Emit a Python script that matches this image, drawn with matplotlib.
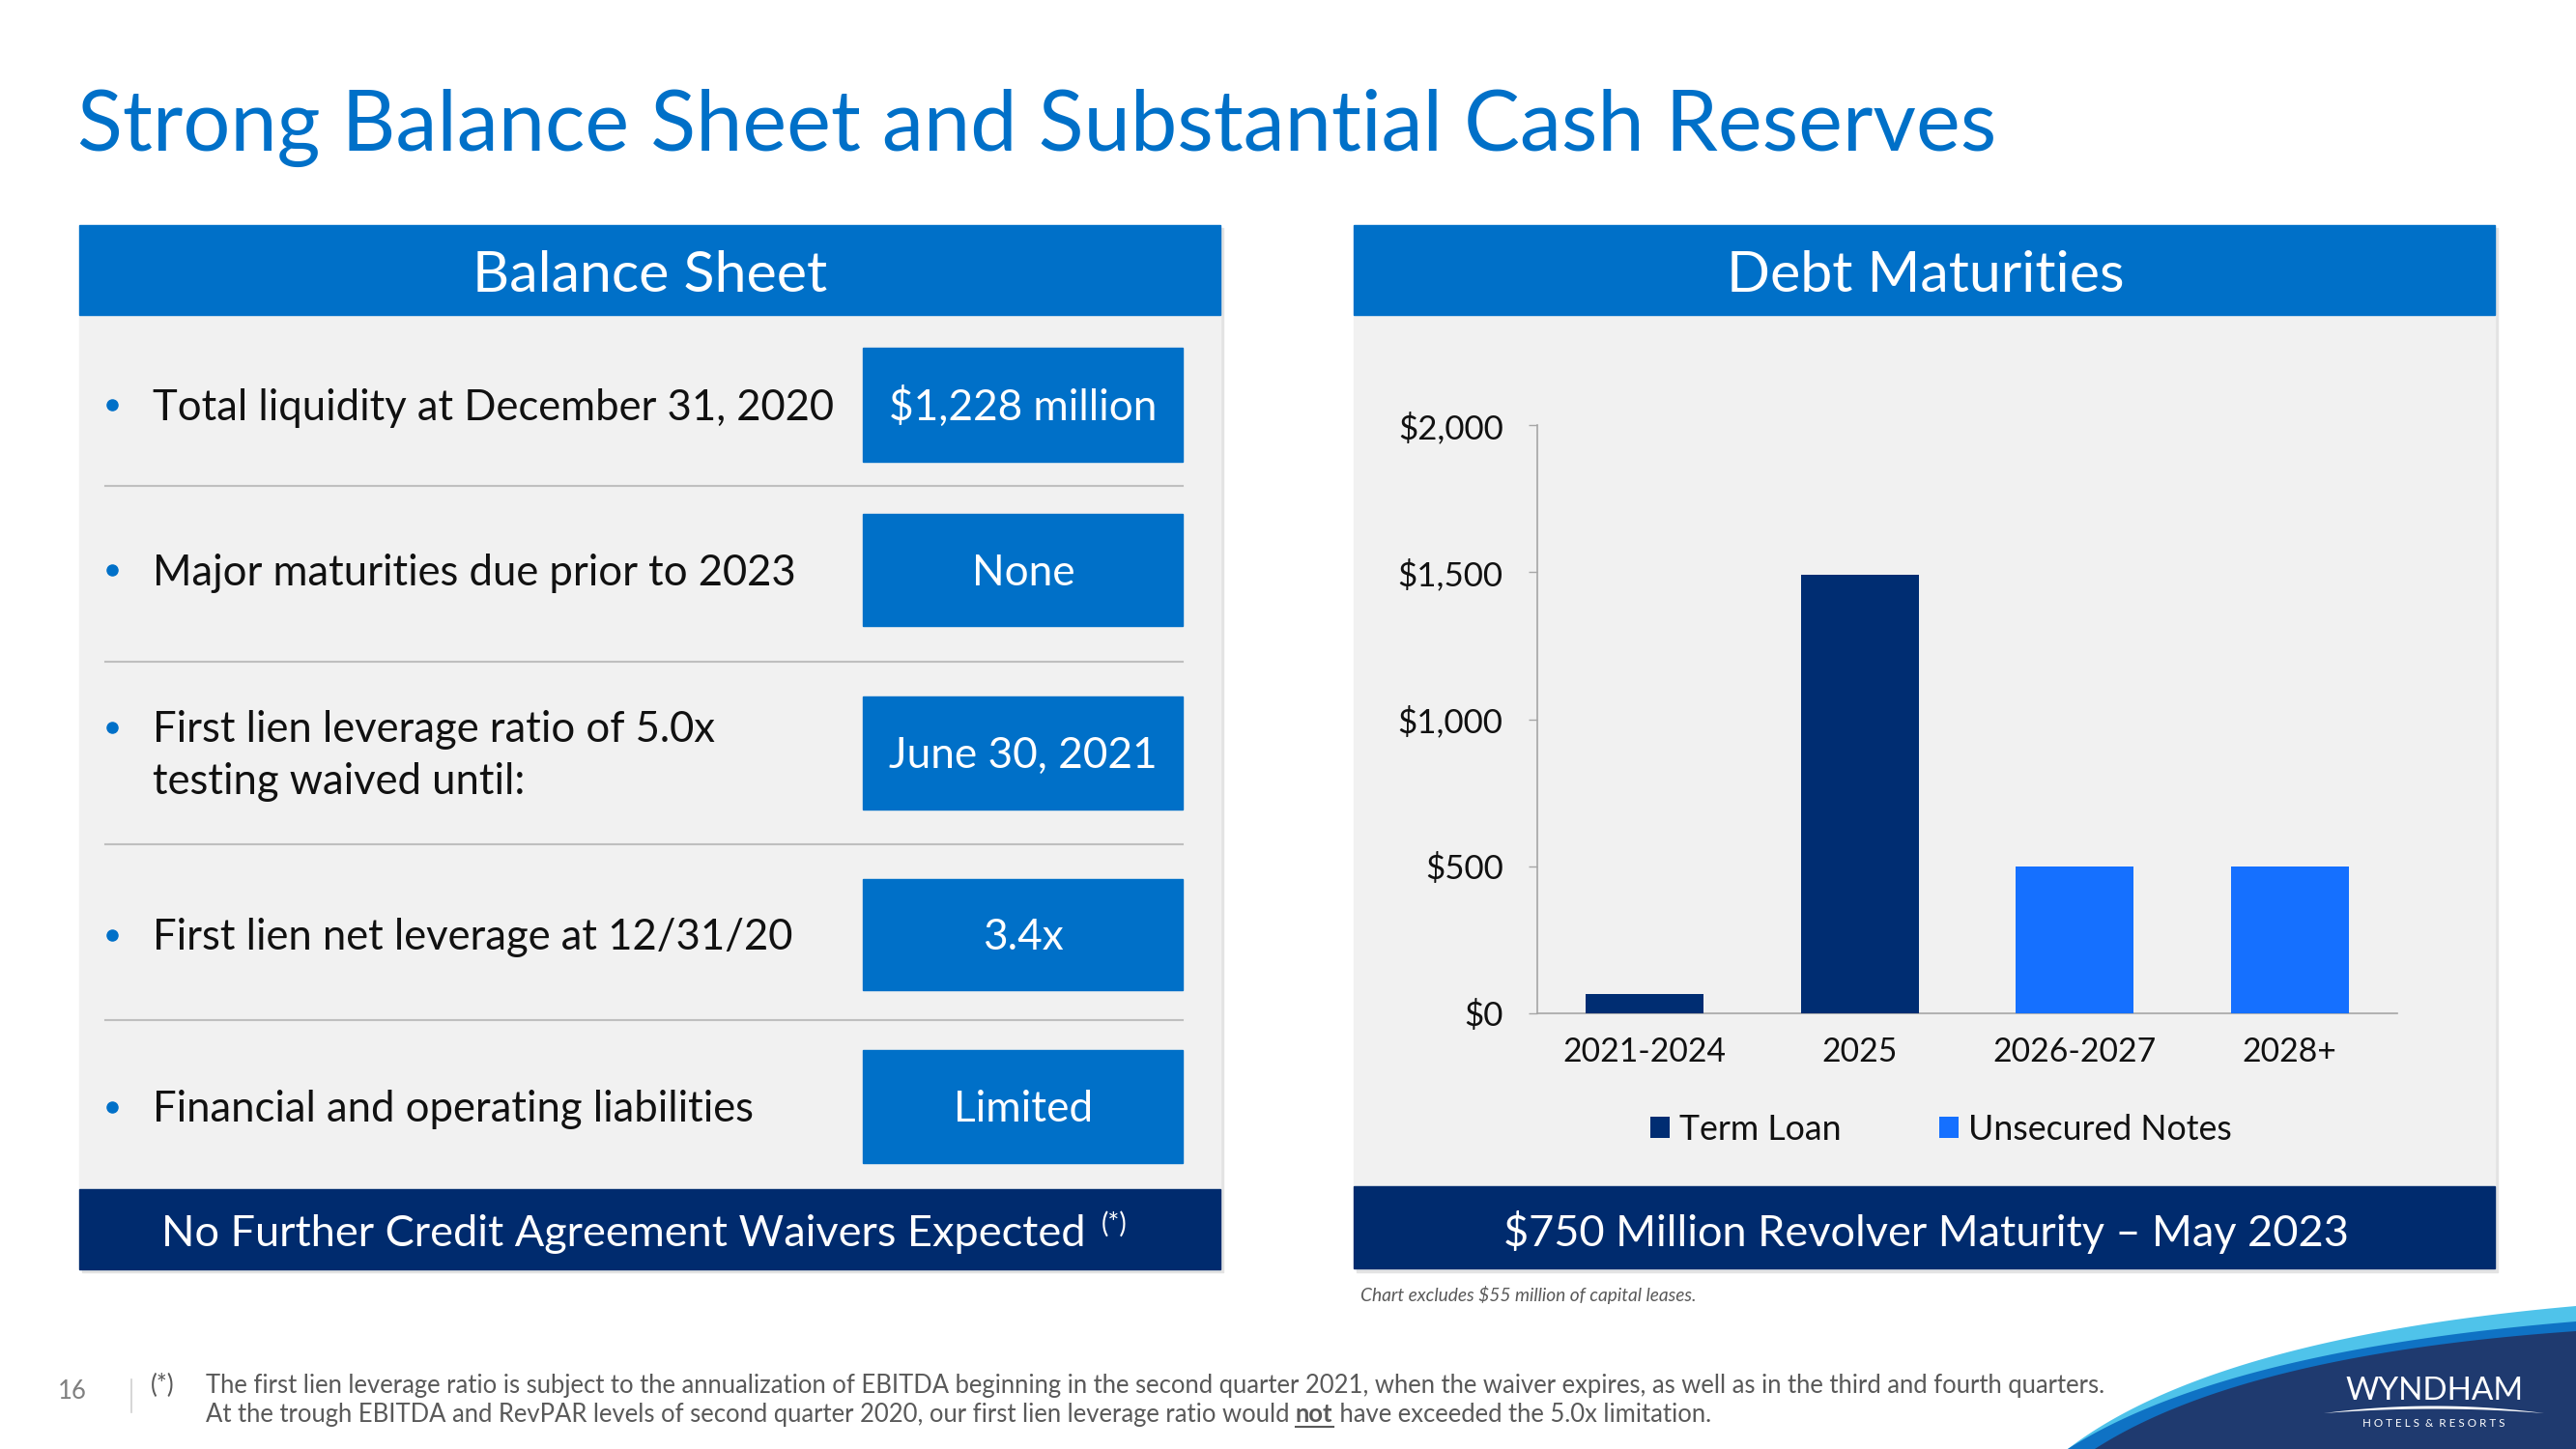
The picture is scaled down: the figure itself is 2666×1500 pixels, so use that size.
import matplotlib
matplotlib.use('Agg')
import matplotlib.pyplot as plt
from matplotlib.patches import Rectangle, Polygon
import numpy as np

# chart data
categories = ['2021-2024', '2025', '2026-2027', '2028+']
series_names = ['Term Loan', 'Unsecured Notes']
term_loan = [65, 1490, 0, 0]
unsecured_notes = [0, 0, 500, 500]
y_ticks = [0, 500, 1000, 1500, 2000]
y_tick_labels = ['$0', '$500', '$1,000', '$1,500', '$2,000']

# balance sheet table
row_labels = [
    'Total liquidity at December 31, 2020',
    'Major maturities due prior to 2023',
    'First lien leverage ratio of 5.0x\ntesting waived until:',
    'First lien net leverage at 12/31/20',
    'Financial and operating liabilities',
]
row_values = ['$1,228 million', 'None', 'June 30, 2021', '3.4x', 'Limited']

title = 'Strong Balance Sheet and Substantial Cash Reserves'
left_header = 'Balance Sheet'
right_header = 'Debt Maturities'
left_footer = 'No Further Credit Agreement Waivers Expected'
right_footer = '$750 Million Revolver Maturity \u2013 May 2023'
chart_note = 'Chart excludes $55 million of capital leases.'
footnote_1 = ('The first lien leverage ratio is subject to the annualization of EBITDA beginning in the '
              'second quarter 2021, when the waiver expires, as well as in the third and fourth quarters.')
footnote_2 = ['At the trough EBITDA and RevPAR levels of second quarter 2020, our first lien leverage ratio would ',
              'not', ' have exceeded the 5.0x limitation.']
page_number = '16'

# colours
BLUE = '#0070C8'
NAVY = '#002B6E'
DARK_BAR = '#002D72'
LIGHT_BAR = '#1570FF'
PANEL = '#F1F1F1'
GREY_TEXT = '#595959'

W, H = 2666, 1500
plt.rcParams['font.family'] = ['Lato', 'DejaVu Sans']

fig = plt.figure(figsize=(W / 100, H / 100), dpi=100)
fig.patch.set_facecolor('white')
renderer = fig.canvas.get_renderer()


def size_for(s, width, **kw):
    # font size (pt) that makes the string `width` pixels wide
    t = fig.text(0, 0, s, fontsize=40, **kw)
    w = t.get_window_extent(renderer).width
    t.remove()
    return 40 * width / w


def cap(fs):
    # approximate cap height in px for Lato
    return 0.72 * fs / 0.72


# full-slide axes in pixel coordinates
bg = fig.add_axes([0, 0, 1, 1])
bg.set_xlim(0, W)
bg.set_ylim(H, 0)
bg.axis('off')

# title
fs_title = size_for(title, 1986)
bg.text(80, 156, title, fontsize=fs_title, color=BLUE, ha='left', va='baseline')

# panels
for x0 in (82, 1401):
    bg.add_patch(Rectangle((x0 + 3, 236), 1181, 1081, color='#E3E3E3', zorder=0))
    bg.add_patch(Rectangle((x0, 326), 1181, 905, color=PANEL, zorder=1))
    bg.add_patch(Rectangle((x0, 233), 1181, 93, color=BLUE, zorder=2))
bg.add_patch(Rectangle((82, 1231), 1181, 83, color=NAVY, zorder=2))
bg.add_patch(Rectangle((1401, 1228), 1181, 85, color=NAVY, zorder=2))

fs_head = size_for(left_header, 367)
bg.text(673, 302, left_header, fontsize=fs_head, color='white', ha='center', va='baseline', zorder=3)
bg.text(1993, 302, right_header, fontsize=fs_head, color='white', ha='center', va='baseline', zorder=3)

fs_foot = size_for(right_footer, 877)
bg.text(1993, 1290, right_footer, fontsize=fs_foot, color='white', ha='center', va='baseline', zorder=3)
t = bg.text(167, 1290, left_footer, fontsize=fs_foot, color='white', ha='left', va='baseline', zorder=3)
bb = t.get_window_extent(renderer)
bg.text(bb.x1 + 16, 1276, '(*)', fontsize=fs_foot * 0.62, color='white', ha='left', va='baseline', zorder=3)

# balance sheet rows
box_tops = [360, 532, 721, 910, 1087]
box_bottoms = [478, 648, 838, 1025, 1204]
separators = [503, 685, 874, 1056]
fs_row = size_for(row_labels[0], 706)
fs_val = size_for(row_values[0], 277)
for i, (label, value) in enumerate(zip(row_labels, row_values)):
    top, bottom = box_tops[i], box_bottoms[i]
    mid = (top + bottom) / 2
    bg.add_patch(Rectangle((893, top), 331, bottom - top, color=BLUE, zorder=3))
    bg.text(1059, mid + cap(fs_val) / 2, value, fontsize=fs_val, color='white',
            ha='center', va='baseline', zorder=4)
    lines = label.split('\n')
    n = len(lines)
    for j, line in enumerate(lines):
        yc = mid + (j - (n - 1) / 2) * 54
        bg.text(158, yc + cap(fs_row) / 2, line, fontsize=fs_row, color='#111111',
                ha='left', va='baseline', zorder=4)
        if j == 0:
            bg.plot(116, yc, 'o', color=BLUE, markersize=8, zorder=4)
for y in separators:
    bg.plot([109, 1224], [y, y], color='#BFBFBF', lw=1.5, zorder=3)

# chart note and footnotes
fs_note = size_for(chart_note, 349, style='italic')
bg.text(1408, 1347, chart_note, fontsize=fs_note, style='italic', color=GREY_TEXT, ha='left', va='baseline')

fs_fn = size_for(footnote_1, 1967)
bg.text(60, 1448, page_number, fontsize=fs_fn, color='#7F7F7F', ha='left', va='baseline')
bg.plot([136, 136], [1428, 1462], color='#D0D0D0', lw=1.2)
bg.text(156, 1442, '(*)', fontsize=fs_fn, color=GREY_TEXT, ha='left', va='baseline')
bg.text(213, 1442, footnote_1, fontsize=fs_fn, color=GREY_TEXT, ha='left', va='baseline')
x = 213
for k, part in enumerate(footnote_2):
    t = bg.text(x, 1472, part, fontsize=fs_fn, color=GREY_TEXT, ha='left', va='baseline',
                fontweight='bold' if k == 1 else 'normal')
    bb = t.get_window_extent(renderer)
    if k == 1:
        bg.plot([x, x + bb.width], [1477, 1477], color=GREY_TEXT, lw=1.5)
    x += bb.width


# logo swoosh
def qbez(p0, p1, p2, n=100):
    t = np.linspace(0, 1, n)[:, None]
    return (1 - t) ** 2 * np.array(p0) + 2 * (1 - t) * t * np.array(p1) + t ** 2 * np.array(p2)


for (p0, p1, p2), col in [(((2140, 1500), (2290, 1385), (2666, 1352)), '#4FC3EA'),
                          (((2140, 1500), (2300, 1398), (2666, 1368)), '#0F72C4'),
                          (((2168, 1500), (2320, 1402), (2666, 1378)), '#1F3A6F')]:
    pts = np.vstack([qbez(p0, p1, p2), [[W, H]]])
    bg.add_patch(Polygon(pts, closed=True, color=col, lw=0, zorder=5))

fs_logo = size_for('WYNDHAM', 185)
bg.text(2427, 1449, 'WYNDHAM', fontsize=fs_logo, color='white', ha='left', va='baseline', zorder=6)
fs_logo2 = size_for('H O T E L S  &  R E S O R T S', 148)
bg.text(2445, 1477, 'H O T E L S  &  R E S O R T S', fontsize=fs_logo2, color='white',
        ha='left', va='baseline', zorder=6)
arc_top = qbez((2405, 1463), (2519, 1448), (2633, 1463), 60)
arc_bot = qbez((2633, 1463), (2519, 1454), (2405, 1463), 60)
bg.add_patch(Polygon(np.vstack([arc_top, arc_bot]), closed=True, color='white', lw=0, zorder=6))

# debt maturities chart
ax = fig.add_axes([1591 / W, 1 - 1049 / H, (2481 - 1591) / W, (1049 - 440) / H])
ax.set_facecolor('none')
xs = np.arange(len(categories))
ax.bar(xs, term_loan, width=0.55, color=DARK_BAR, label=series_names[0], zorder=3)
ax.bar(xs, unsecured_notes, width=0.55, color=LIGHT_BAR, label=series_names[1], zorder=3)
ax.set_xlim(-0.5, len(categories) - 0.5)
ax.set_ylim(0, 2000)
ax.set_yticks(y_ticks)
fs_tick = size_for(y_tick_labels[-1], 109)
ax.set_yticklabels(y_tick_labels, fontsize=fs_tick, color='#111111')
ax.set_xticks(xs)
fs_xtick = size_for(categories[0], 168)
ax.set_xticklabels(categories, fontsize=fs_xtick, color='#111111')
ax.tick_params(axis='y', length=6.5, width=1, color='#A6A6A6', pad=19)
ax.tick_params(axis='x', length=0, pad=17.5)
for side in ('top', 'right'):
    ax.spines[side].set_visible(False)
for side in ('left', 'bottom'):
    ax.spines[side].set_color('#A6A6A6')
    ax.spines[side].set_linewidth(1.2)

fs_leg = size_for(series_names[0], 167)
px = fs_leg / 0.72
ax.legend(ncol=2, frameon=False, fontsize=fs_leg, labelcolor='#111111',
          handlelength=20 / px, handleheight=20 / px, handletextpad=10 / px,
          columnspacing=102 / px, loc='center',
          bbox_to_anchor=(2009 / W, 1 - 1169 / H), bbox_transform=fig.transFigure)

fig.savefig('out.png', dpi=100, facecolor='white')
